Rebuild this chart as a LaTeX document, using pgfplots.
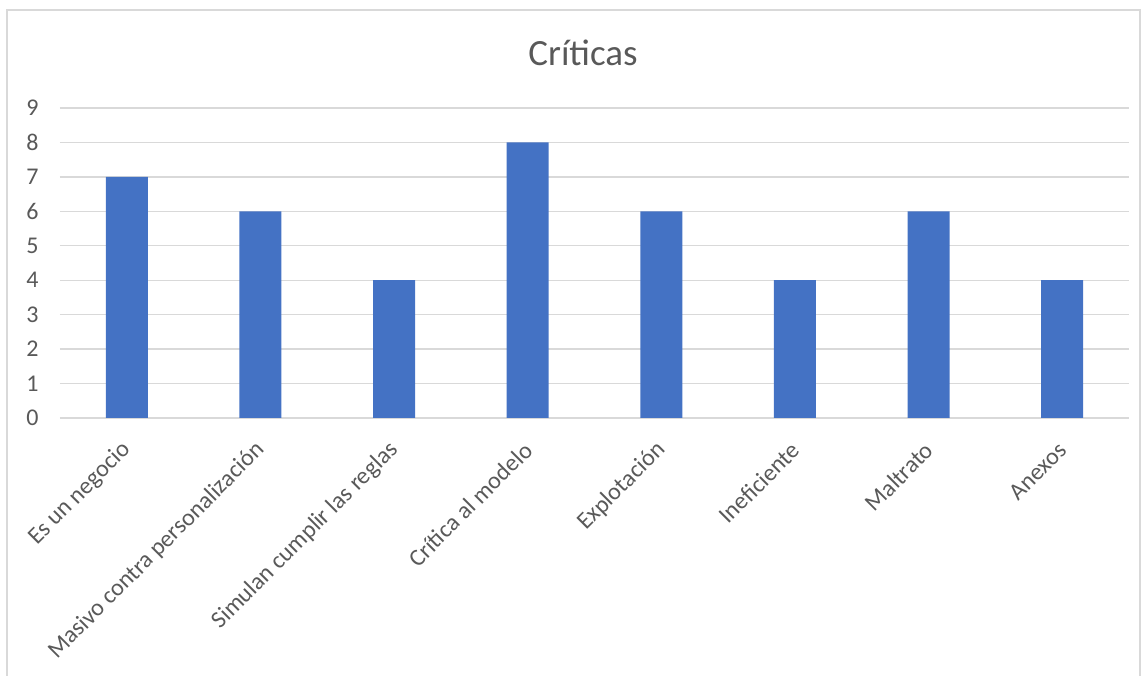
\documentclass[border=0pt]{standalone}
\usepackage{pgfplots}
\pgfplotsset{compat=1.18}
\usepackage{fontspec}
\setmainfont{Carlito}
\definecolor{barc}{HTML}{4472C4}
\definecolor{txt}{HTML}{595959}
\definecolor{grd}{HTML}{D9D9D9}
\begin{document}
\begin{tikzpicture}
\begin{axis}[
  at={(126.8pt,258pt)}, anchor=origin,
  scale only axis, width=1069pt, height=310pt,
  xmin=-0.5, xmax=7.5, ymin=0, ymax=9,
  ytick={0,1,2,3,4,5,6,7,8,9},
  xtick=data,
  xticklabels={Es un negocio, Masivo contra personalización, Simulan cumplir las reglas, Crítica al modelo, Explotación, Ineficiente, Maltrato, Anexos},
  axis line style={draw=none},
  major tick length=0pt,
  ymajorgrids, grid style={grd, line width=1.3pt},
  /pgf/number format/assume math mode=true,
  ticklabel style={txt, font=\fontsize{24}{29}\selectfont},
  yticklabel style={xshift=-18pt},
  xticklabel style={xshift=3pt, yshift=-26pt, rotate=45, anchor=east},
  ybar, bar width=42pt,
]
\addplot[fill=barc, draw=none] coordinates {(0,7)(1,6)(2,4)(3,8)(4,6)(5,4)(6,6)(7,4)};
\end{axis}
\draw[grd, line width=1.5pt] (7pt,0pt) -- (7pt,666pt) -- (1140pt,666pt) -- (1140pt,0pt);
\node[txt, font=\fontsize{37}{44}\selectfont] at (583pt,623pt) {Críticas};
\pgfresetboundingbox
\useasboundingbox (0pt,0pt) rectangle (1147pt,676pt);
\end{tikzpicture}
\end{document}
